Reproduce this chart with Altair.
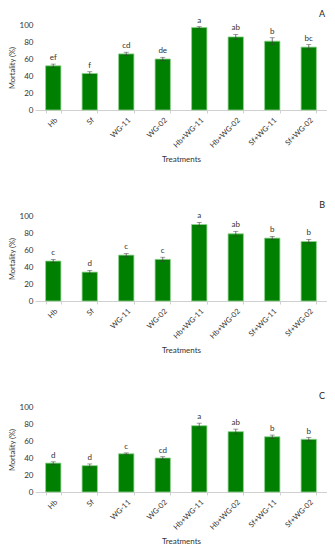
import altair as alt
import pandas as pd

treatments = ["Hb", "Sf", "WG-11", "WG-02", "Hb+WG-11", "Hb+WG-02", "Sf+WG-11", "Sf+WG-02"]

mort_a = [52, 43, 66, 60, 97, 86, 81, 74]
err_a = [2, 2, 2, 2, 1, 3, 4, 3]
lab_a = ["ef", "f", "cd", "de", "a", "ab", "b", "bc"]

mort_b = [47, 34, 54, 49, 90, 79, 74, 70]
err_b = [2, 2, 2, 2.5, 2.5, 3, 2, 2.5]
lab_b = ["c", "d", "c", "c", "a", "ab", "b", "b"]

mort_c = [34, 31, 45, 40, 78, 71, 65, 62]
err_c = [1.5, 2, 1, 1.5, 3, 3, 2, 2]
lab_c = ["d", "d", "c", "cd", "a", "ab", "b", "b"]

FONT = "Lato"

x_axis = alt.Axis(labelAngle=-45, labelFontSize=7.5, titleFontSize=8,
                  labelColor="#333", titleColor="#333", titleFontWeight="normal",
                  domainColor="#d0d0d0", tickColor="#d0d0d0",
                  tickBand="extent", tickSize=3, labelPadding=3,
                  titlePadding=7, labelFont=FONT, titleFont=FONT)
y_axis = alt.Axis(values=[0, 20, 40, 60, 80, 100], grid=False, domain=False,
                  ticks=False, labelFontSize=8, titleFontSize=7.5,
                  labelOverlap=False, titleFontWeight="normal",
                  labelColor="#333", titleColor="#333", labelPadding=2,
                  titlePadding=3, labelFont=FONT, titleFont=FONT)
y_scale = alt.Scale(domain=[0, 100])
x_scale = alt.Scale(paddingInner=0.58, paddingOuter=0.29)


def panel(letter, vals, errs, labs):
    df = pd.DataFrame({
        "Treatment": treatments,
        "Mortality": vals,
        "lo": [v - e for v, e in zip(vals, errs)],
        "hi": [v + e for v, e in zip(vals, errs)],
        "label": labs,
    })
    x = alt.X("Treatment:N", sort=treatments, title="Treatments", scale=x_scale, axis=x_axis)
    base = alt.Chart(df)
    bars = base.mark_bar(color="#008000", stroke="#8fd18f", strokeWidth=0.8).encode(
        x=x, y=alt.Y("Mortality:Q", title="Mortality (%)", scale=y_scale, axis=y_axis))
    eb = base.mark_errorbar(ticks=alt.TickConfig(size=5), color="#404040", thickness=0.7).encode(
        x=x, y=alt.Y("lo:Q", title="Mortality (%)", scale=y_scale, axis=y_axis), y2="hi:Q")
    txt = base.mark_text(baseline="bottom", dy=-2, fontSize=8, font=FONT, color="#333").encode(
        x=x, y=alt.Y("hi:Q", title="Mortality (%)", scale=y_scale, axis=y_axis), text="label:N")
    let = alt.Chart(pd.DataFrame({"letter": [letter]})).mark_text(
        align="right", baseline="middle", fontSize=9, font=FONT, color="#222").encode(
        x=alt.value(290), y=alt.value(-11), text="letter:N")
    return alt.layer(bars, eb, txt, let).properties(width=292, height=85)


chart = alt.vconcat(
    panel("A", mort_a, err_a, lab_a),
    panel("B", mort_b, err_b, lab_b),
    panel("C", mort_c, err_c, lab_c),
    spacing=37,
).configure_view(stroke=None).properties(padding={"left": 0, "top": 2, "right": 0, "bottom": 0})

chart.save("out.html", embed_options={"renderer": "svg", "actions": False})
